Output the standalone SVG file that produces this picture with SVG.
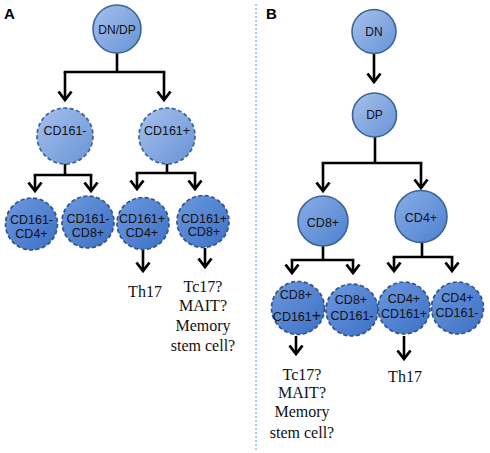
<svg xmlns="http://www.w3.org/2000/svg" width="490" height="453" viewBox="0 0 490 453">
<style>
.ln{fill:none;stroke:#000;stroke-width:2.6;stroke-linecap:butt;stroke-linejoin:miter}
.ar{marker-end:url(#chev)}
.c1{fill:url(#gLight);stroke:#3b6497;stroke-width:1.6}
.c1d{fill:url(#gLight);stroke:#3b6497;stroke-width:1.7;stroke-dasharray:4 2.5}
.c2{fill:url(#gMid);stroke:#3b6497;stroke-width:1.6}
.c3{fill:url(#gDark);stroke:#2f558c;stroke-width:1.7;stroke-dasharray:4 2.5}
.t{font-family:"Liberation Sans",Arial,sans-serif;font-size:12.5px;fill:#111;text-anchor:middle}
.s{font-family:"Liberation Serif","Times New Roman",serif;font-size:16px;fill:#111;text-anchor:middle}
.p{font-family:"Liberation Sans",Arial,sans-serif;font-size:15px;font-weight:bold;fill:#000}
</style>
<defs>
<linearGradient id="gLight" x1="0" y1="0" x2="1" y2="1">
<stop offset="0" stop-color="#a6c1ed"/>
<stop offset="1" stop-color="#6893d6"/>
</linearGradient>
<linearGradient id="gMid" x1="0" y1="0" x2="1" y2="1">
<stop offset="0" stop-color="#8aaee7"/>
<stop offset="1" stop-color="#4d80cf"/>
</linearGradient>
<linearGradient id="gDark" x1="0" y1="0" x2="1" y2="1">
<stop offset="0" stop-color="#6c98df"/>
<stop offset="1" stop-color="#3d70c4"/>
</linearGradient>
<marker id="chev" markerUnits="userSpaceOnUse" viewBox="-12 -9 16 18" refX="0" refY="0" markerWidth="16" markerHeight="18" orient="auto">
<path d="M-8.5,-6.5 L0,0 L-8.5,6.5" fill="none" stroke="#000" stroke-width="2.8"/>
</marker>
</defs>

<rect width="490" height="453" fill="#fff"/>
<line x1="256" y1="4" x2="256" y2="451" stroke="#5b9bd5" stroke-width="1" stroke-dasharray="2 2"/>
<text class="p" x="4" y="19">A</text>
<text class="p" x="266" y="19">B</text>

<g id="connectors">
<path class="ln" d="M117,53 V72 M63.7,72 H165.3"/>
<path class="ln ar" d="M65,72 V100"/>
<path class="ln ar" d="M164,72 V100"/>
<path class="ln" d="M65,164 V175 M33.7,175 H92.3"/>
<path class="ln ar" d="M35,175 V191"/>
<path class="ln ar" d="M91,175 V191"/>
<path class="ln" d="M167,164 V173 M135.7,173 H196.3"/>
<path class="ln ar" d="M137,173 V189"/>
<path class="ln ar" d="M195,173 V189"/>
<path class="ln ar" d="M143,250 V271"/>
<path class="ln ar" d="M205,248 V267"/>

<path class="ln ar" d="M374,54 V82"/>
<path class="ln" d="M375,137 V163 M321.7,163 H422.3"/>
<path class="ln ar" d="M323,163 V191"/>
<path class="ln ar" d="M421,163 V188"/>
<path class="ln" d="M323,246 V260 M290.7,260 H354.3"/>
<path class="ln ar" d="M292,260 V273"/>
<path class="ln ar" d="M353,260 V273"/>
<path class="ln" d="M422,242 V257 M392.7,257 H453.3"/>
<path class="ln ar" d="M394,257 V271"/>
<path class="ln ar" d="M452,257 V271"/>
<path class="ln ar" d="M296,336 V354"/>
<path class="ln ar" d="M404,336 V359"/>
</g>

<g id="a-dndp"><circle class="c1" cx="117" cy="29" r="24"/><text class="t" x="117" y="34" style="font-size:12px">DN/DP</text></g>
<g id="a-cd161neg"><circle class="c1d" cx="65" cy="136" r="28"/><text class="t" x="65" y="135">CD161-</text></g>
<g id="a-cd161pos"><circle class="c1d" cx="167" cy="136" r="28"/><text class="t" x="167" y="135">CD161+</text></g>
<g id="a-neg-cd4"><circle class="c3" cx="31.5" cy="224" r="26"/><text class="t" x="31.5" y="224">CD161-</text><text class="t" x="31.5" y="238">CD4+</text></g>
<g id="a-neg-cd8"><circle class="c3" cx="88" cy="222" r="26"/><text class="t" x="88" y="223">CD161-</text><text class="t" x="88" y="237">CD8+</text></g>
<g id="a-pos-cd4"><circle class="c3" cx="143" cy="223.5" r="26"/><text class="t" x="142" y="223">CD161+</text><text class="t" x="142" y="237">CD4+</text></g>
<g id="a-pos-cd8"><circle class="c3" cx="203" cy="221.5" r="26"/><text class="t" x="204" y="223">CD161+</text><text class="t" x="204" y="236">CD8+</text></g>
<g id="a-th17"><text class="s" x="145" y="297">Th17</text></g>
<g id="a-tc17"><text class="s" x="203" y="292">Tc17?</text><text class="s" x="203" y="311">MAIT?</text><text class="s" x="203" y="331">Memory</text><text class="s" x="203" y="351">stem cell?</text></g>

<g id="b-dn"><circle class="c1" cx="374" cy="31.5" r="22"/><text class="t" x="374" y="36" style="font-size:12px">DN</text></g>
<g id="b-dp"><circle class="c1" cx="374.5" cy="115" r="22"/><text class="t" x="374.5" y="119" style="font-size:12px">DP</text></g>
<g id="b-cd8"><circle class="c2" cx="323" cy="221" r="25"/><text class="t" x="323" y="227">CD8+</text></g>
<g id="b-cd4"><circle class="c2" cx="421" cy="216.5" r="26"/><text class="t" x="421" y="222">CD4+</text></g>
<g id="b-cd8-pos"><circle class="c3" cx="298" cy="308" r="26.5"/><text class="t" x="296" y="299">CD8+</text><text class="t" x="297" y="321">CD161<tspan style="font-size:16px">+</tspan></text></g>
<g id="b-cd8-neg"><circle class="c3" cx="352" cy="310" r="26"/><text class="t" x="351" y="304">CD8+</text><text class="t" x="352" y="320">CD161-</text></g>
<g id="b-cd4-pos"><circle class="c3" cx="404" cy="308" r="26"/><text class="t" x="404" y="303">CD4+</text><text class="t" x="404" y="318">CD161+</text></g>
<g id="b-cd4-neg"><circle class="c3" cx="457.5" cy="308" r="26"/><text class="t" x="457.5" y="302">CD4+</text><text class="t" x="457" y="317">CD161-</text></g>
<g id="b-tc17"><text class="s" x="302" y="380">Tc17?</text><text class="s" x="302" y="398">MAIT?</text><text class="s" x="302" y="417">Memory</text><text class="s" x="302" y="438">stem cell?</text></g>
<g id="b-th17"><text class="s" x="405" y="382">Th17</text></g>
</svg>
